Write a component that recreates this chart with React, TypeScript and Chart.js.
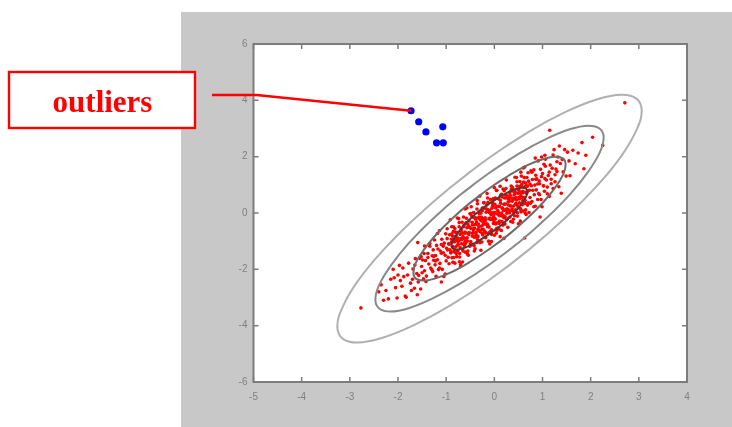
import React, { useEffect, useRef } from "react";
import { Chart, registerables } from "chart.js";

Chart.register(...registerables);

const xTicks = [-5, -4, -3, -2, -1, 0, 1, 2, 3, 4];
const yTicks = [-6, -4, -2, 0, 2, 4, 6];
const calloutLabel = "outliers";

const outlierPoints: [number, number][] = [
  [-1.73, 3.63], [-1.57, 3.24], [-1.42, 2.88], [-1.07, 3.06], [-1.2, 2.49], [-1.06, 2.49],
];

const samplePoints: [number, number][] = [
  [-0.49,-0.55],[-0.47,-1.10],[-0.46,-0.33],[-0.44,-0.69],[-0.43,0.02],[-0.42,-0.86],[-0.41,-0.53],[-0.40,-1.27],[-0.39,-0.17],[-0.38,-0.69],
  [-0.37,-0.31],[-0.36,-1.05],[-0.35,0.33],[-0.34,-0.83],[-0.33,-0.39],[-0.32,-0.49],[-0.31,0.02],[-0.30,-1.05],[-0.29,-0.25],[-0.28,-1.32],
  [-0.27,-0.14],[-0.26,-0.59],[-0.25,0.18],[-0.24,-0.78],[-0.23,-0.33],[-0.22,0.36],[-0.21,-0.39],[-0.20,-0.65],[-0.19,-0.17],[-0.18,-0.88],
  [-0.17,0.15],[-0.16,-0.39],[-0.15,0.69],[-0.14,-0.49],[-0.13,0.11],[-0.12,-1.00],[-0.11,-0.20],[-0.10,0.01],[-0.09,-0.67],[-0.08,0.48],
  [-0.07,-0.05],[-0.06,-0.60],[-0.05,0.17],[-0.04,-0.21],[-0.03,0.50],[-0.02,-0.37],[-0.01,-0.04],[0.00,-0.79],[0.01,0.31],[0.02,-0.21],
  [0.03,0.18],[0.04,-0.56],[0.05,0.81],[0.06,-0.35],[0.07,0.09],[0.08,0.00],[0.09,0.50],[0.10,-0.57],[0.11,0.23],[0.12,-0.84],
  [0.13,0.35],[0.14,-0.10],[0.15,0.66],[0.16,-0.30],[0.17,0.16],[0.18,0.85],[0.19,0.09],[0.20,-0.17],[0.21,0.31],[0.22,-0.39],
  [0.23,0.64],[0.24,0.09],[0.25,1.17],[0.26,-0.01],[0.27,0.60],[0.28,-0.51],[0.29,0.28],[0.30,0.49],
  [-0.495,-0.02],[-0.475,-1.13],[-0.455,-0.42],[-0.435,-0.60],[-0.415,-1.35],[-0.395,-0.21],[-0.375,-0.77],[-0.355,0.44],[-0.335,-0.61],[-0.315,-0.02],
  [-0.295,-1.02],[-0.275,-0.27],[-0.255,-0.72],[-0.235,-0.42],[-0.215,0.37],[-0.195,-0.29],[-0.175,-0.70],[-0.155,0.29],[-0.135,-0.43],[-0.115,0.05],
  [-0.095,-1.10],[-0.075,0.01],[-0.055,-0.76],[-0.035,0.35],[-0.015,-0.12],[0.005,0.02],[0.025,-0.39],[0.045,0.80],[0.065,-0.53],[0.085,0.24],
  [0.105,-0.10],[0.125,0.45],[0.145,-0.62],[0.165,0.17],[0.185,-0.13],[0.205,0.79],[0.225,0.11],[0.245,0.53],[0.265,-0.21],[0.285,0.39],
  [-0.89,-1.04],[-0.88,-1.59],[-0.87,-0.82],[-0.86,-1.20],[-0.85,-0.49],[-0.84,-1.37],[-0.83,-1.03],[-0.82,-1.78],[-0.81,-0.68],[-0.80,-1.20],
  [-0.79,-0.82],[-0.78,-1.55],[-0.77,-0.18],[-0.76,-1.34],[-0.75,-0.90],[-0.74,-1.00],[-0.73,-0.49],[-0.72,-1.56],[-0.71,-0.76],[-0.70,-1.83],
  [-0.69,-0.65],[-0.68,-1.09],[-0.67,-0.33],[-0.66,-1.29],[-0.65,-0.84],[-0.64,-0.14],[-0.63,-0.90],[-0.62,-1.16],[-0.61,-0.68],[-0.60,-1.39],
  [-0.59,-0.35],[-0.58,-0.90],[-0.57,0.18],[-0.56,-1.00],[-0.55,-0.40],[-0.54,-1.50],[-0.53,-0.71],[-0.52,-0.50],[-0.51,-1.18],[-0.505,-0.03],
  [-0.885,-0.49],[-0.845,-1.58],[-0.805,-0.84],[-0.765,-1.00],[-0.725,-1.73],[-0.685,-0.56],[-0.645,-1.10],[-0.605,0.14],[-0.565,-0.88],[-0.525,-0.28],
  [0.31,0.42],[0.32,-0.14],[0.33,0.63],[0.34,0.25],[0.35,0.96],[0.36,0.09],[0.37,0.42],[0.38,-0.33],[0.39,0.77],[0.40,0.25],
  [0.41,0.64],[0.42,-0.10],[0.43,1.27],[0.44,0.11],[0.45,0.55],[0.46,0.46],[0.47,0.96],[0.48,-0.11],[0.49,0.69],[0.50,-0.38],
  [0.51,0.81],[0.52,0.36],[0.53,1.12],[0.54,0.16],[0.55,0.62],[0.56,1.31],[0.57,0.55],[0.58,0.29],[0.59,0.77],[0.60,0.07],
  [0.61,1.10],[0.62,0.55],[0.63,1.63],[0.64,0.45],[0.65,1.06],[0.66,-0.05],[0.67,0.74],[0.68,0.95],[0.69,0.28],[0.70,1.43],
  [0.315,0.00],[0.355,0.85],[0.395,-0.22],[0.435,0.70],[0.475,0.30],[0.515,0.94],[0.555,0.04],[0.595,0.72],[0.635,0.34],[0.675,1.26],
  [-1.29,-1.52],[-1.28,-2.08],[-1.27,-1.31],[-1.26,-1.68],[-1.24,-0.96],[-1.23,-1.84],[-1.22,-1.51],[-1.21,-2.25],[-1.20,-1.15],[-1.18,-1.66],
  [-1.17,-1.28],[-1.16,-2.01],[-1.14,-0.63],[-1.13,-1.79],[-1.12,-1.35],[-1.10,-1.43],[-1.09,-0.93],[-1.08,-2.00],[-1.06,-1.18],[-1.05,-2.25],
  [-1.04,-1.07],[-1.02,-1.50],[-1.01,-0.74],[-1.00,-1.70],[-0.99,-1.25],[-0.98,-0.56],[-0.97,-1.31],[-0.96,-1.57],[-0.95,-1.09],[-0.94,-1.80],
  [-0.93,-0.77],[-0.92,-1.31],[-0.915,-0.24],[-0.905,-1.42],
  [0.71,1.13],[0.72,0.02],[0.73,0.81],[0.74,1.03],[0.75,0.35],[0.76,1.50],[0.77,0.97],[0.78,0.41],[0.79,1.19],[0.80,0.81],
  [0.82,1.53],[0.83,0.65],[0.84,0.99],[0.85,0.24],[0.86,1.34],[0.87,0.82],[0.88,1.21],[0.90,0.48],[0.91,1.85],[0.92,0.69],
  [0.93,1.14],[0.94,1.04],[0.96,1.55],[0.97,0.48],[0.98,1.29],[0.99,0.22],[1.00,1.40],[1.02,0.96],[1.03,1.73],[1.04,0.77],
  [1.05,1.22],[1.06,1.91],[1.08,1.17],[1.10,0.92],
  [-1.69,-1.99],[-1.66,-2.67],[-1.64,-1.62],[-1.61,-2.15],[-1.59,-1.05],[-1.57,-2.22],[-1.55,-1.61],[-1.53,-2.70],[-1.51,-1.90],[-1.49,-1.67],
  [-1.47,-2.34],[-1.45,-1.17],[-1.43,-1.69],[-1.41,-2.24],[-1.38,-1.44],[-1.36,-1.81],[-1.34,-1.08],[-1.32,-1.95],
  [1.12,1.33],[1.14,0.59],[1.16,1.70],[1.18,1.20],[1.20,1.59],[1.22,0.87],[1.24,2.25],[1.26,1.11],[1.28,1.56],[1.30,1.47],
  [1.32,1.99],[1.34,0.93],[1.37,1.76],[1.39,0.70],[1.41,1.90],[1.43,1.46],[1.46,2.25],[1.49,1.31],
  [-2.08,-2.30],[-2.02,-3.02],[-1.97,-1.86],[-1.92,-2.60],[-1.88,-2.26],[-1.83,-2.99],[-1.78,-1.78],[-1.74,-2.49],
  [1.52,2.16],[1.57,1.32],[1.63,2.23],[1.68,1.75],[1.74,2.13],[1.82,2.50],[1.86,1.57],[2.04,2.69],
  [-2.77,-3.37],[-2.35,-2.55],[-2.20,-3.05],[2.71,3.91],[2.25,2.40],[1.15,2.94],[0.63,-0.89],[0.95,-0.14],[1.05,2.05],[1.35,2.38],
  [1.55,1.85],[0.85,1.95],[1.90,2.05],[0.60,1.60],[-1.85,-2.95],[-2.40,-2.80],[-1.60,-2.90],[-2.00,-2.20],[-1.10,-2.45],[-0.70,-1.90],
  [0.20,-0.90],[-0.30,0.60],[0.00,0.90],[0.55,1.45],
  [-0.90,-1.39],[-0.88,-0.74],[-0.86,-1.75],[-0.84,-0.93],[-0.82,-0.55],[-0.80,-1.41],[-0.78,-0.95],[-0.76,-1.14],[-0.74,-0.20],[-0.72,-1.44],
  [-0.70,-0.64],[-0.68,-0.95],[-0.66,-1.74],[-0.64,-0.49],[-0.62,-0.72],[-0.60,-1.08],[-0.58,-0.19],[-0.56,-1.45],[-0.54,-0.49],[-0.52,-0.69],
  [-0.50,-1.10],[-0.48,0.22],[-0.46,-0.82],[-0.44,-0.15],[-0.42,-1.16],[-0.40,-0.41],[-0.38,-0.85],[-0.36,0.14],[-0.34,-0.58],[-0.32,-0.14],
  [-0.30,-0.66],[-0.28,-0.01],[-0.26,-1.03],[-0.24,-0.20],[-0.22,0.17],[-0.20,-0.68],[-0.18,-0.23],[-0.16,-0.41],[-0.14,0.53],[-0.12,-0.72],
  [-0.10,0.09],[-0.08,-0.23],[-0.06,-1.01],[-0.04,0.23],[-0.02,0.01],[0.00,-0.35],[0.02,0.53],[0.04,-0.72],[0.06,0.23],[0.08,0.04],
  [0.10,-0.37],[0.12,0.95],[0.14,-0.09],[0.16,0.57],[0.18,-0.43],[0.20,0.31],[0.22,-0.12],[0.24,0.87],[0.26,0.15],[0.28,0.59],
  [0.30,0.06],[0.32,0.72],[0.34,-0.30],[0.36,0.53],[0.38,0.90],[0.40,0.04],[0.42,0.50],[0.44,0.31],[0.46,1.26],[0.48,0.01],
  [0.50,0.82],[0.52,0.50],[0.54,-0.29],[0.56,0.96],[0.58,0.73],[0.60,0.38],[0.62,1.26],[0.64,0.00],[0.66,0.96],[0.68,0.76],[0.70,0.36],
  [-0.89,-0.93],[-0.87,-1.19],[-0.85,-0.65],[-0.83,-1.30],[-0.81,-0.95],[-0.79,-1.44],[-0.77,-0.69],[-0.75,-1.12],[-0.73,-0.34],[-0.71,-1.23],
  [-0.69,-0.91],[-0.67,-0.72],[-0.65,-1.35],[-0.63,-0.43],[-0.61,-1.01],[-0.59,-0.71],[-0.57,-0.52],[-0.55,-1.35],[-0.53,-0.76],[-0.51,-0.50],
  [-0.49,-1.01],[-0.47,-0.10],[-0.45,-0.72],[-0.43,-0.55],[-0.41,-0.83],[-0.39,-0.19],[-0.37,-0.41],[-0.35,-0.94],[-0.33,-0.19],[-0.31,-0.61],
  [-0.29,-0.20],[-0.27,-0.47],[-0.25,0.08],[-0.23,-0.58],[-0.21,-0.22],[-0.19,-0.71],[-0.17,0.03],[-0.15,-0.39],[-0.13,0.38],[-0.11,-0.50],
  [-0.09,-0.18],[-0.07,0.01],[-0.05,-0.62],[-0.03,0.29],[-0.01,-0.28],[0.01,0.01],[0.03,0.21],[0.05,-0.62],[0.07,-0.04],[0.09,0.23],
  [0.11,-0.29],[0.13,0.63],[0.15,0.00],[0.17,0.18],[0.19,-0.10],[0.21,0.53],[0.23,0.32],[0.25,-0.22],[0.27,0.54],[0.29,0.12],
  [0.31,0.53],[0.33,0.26],[0.35,0.80],[0.37,0.15],[0.39,0.50],[0.41,0.02],[0.43,0.76],[0.45,0.34],[0.47,1.11],[0.49,0.22],
  [0.51,0.55],[0.53,0.73],[0.55,0.11],[0.57,1.02],[0.59,0.44],[0.61,0.74],[0.63,0.93],[0.65,0.11],[0.67,0.69],[0.69,0.96],
  [-1.50,-2.12],[-1.46,-1.44],[-1.42,-2.43],[-1.38,-1.58],[-1.34,-1.18],[-1.30,-2.01],[-1.26,-1.54],[-1.22,-1.70],[-1.18,-0.73],[-1.14,-1.95],
  [-1.10,-1.12],[-1.06,-1.41],[-1.02,-2.17],[-0.98,-0.91],[-0.94,-1.11],
  [0.74,0.55],[0.78,1.45],[0.82,0.22],[0.86,1.20],[0.90,1.03],[0.94,0.65],[0.98,1.99],[1.02,0.97],[1.06,1.66],[1.10,0.68],
  [1.14,1.45],[1.18,1.04],[1.22,2.06],[1.26,1.36],[1.30,1.82],
  [-2.25,-2.75],[-2.15,-2.35],[-2.05,-2.65],[-1.95,-2.40],[-1.80,-2.20],[-1.72,-2.75],[-1.65,-1.85],[-1.58,-2.45],[-1.52,-1.55],[-1.45,-2.05],
  [-2.30,-3.10],[-2.10,-2.00],[-1.90,-1.95],[-1.70,-2.35],
];

// Density contour outlines, innermost to outermost
const contourInner: [number, number][] = [
  [0.11,0.57],[-0.10,0.34],[-0.31,0.08],[-0.50,-0.21],[-0.66,-0.49],[-0.78,-0.76],[-0.86,-0.98],[-0.89,-1.16],[-0.86,-1.26],
  [-0.78,-1.30],[-0.66,-1.26],[-0.50,-1.15],[-0.31,-0.97],[-0.10,-0.74],[0.11,-0.48],[0.30,-0.19],[0.46,0.09],[0.58,0.36],
  [0.66,0.58],[0.69,0.76],[0.66,0.86],[0.58,0.90],[0.46,0.86],[0.30,0.75],[0.11,0.57],[-0.10,0.34],[-0.31,0.08],
];
const contourSecond: [number, number][] = [
  [0.31,1.34],[-0.10,0.88],[-0.51,0.35],[-0.89,-0.22],[-1.22,-0.79],[-1.47,-1.32],[-1.63,-1.77],[-1.68,-2.11],[-1.63,-2.33],
  [-1.47,-2.40],[-1.22,-2.32],[-0.89,-2.10],[-0.51,-1.74],[-0.10,-1.28],[0.31,-0.75],[0.69,-0.18],[1.02,0.39],[1.27,0.92],
  [1.43,1.37],[1.48,1.71],[1.43,1.93],[1.27,2.00],[1.02,1.92],[0.69,1.70],[0.31,1.34],[-0.10,0.88],[-0.51,0.35],
];
const contourThird: [number, number][] = [
  [0.52,2.12],[-0.10,1.43],[-0.72,0.63],[-1.29,-0.23],[-1.78,-1.08],[-2.15,-1.87],[-2.39,-2.55],[-2.47,-3.07],[-2.39,-3.39],
  [-2.15,-3.50],[-1.78,-3.38],[-1.29,-3.04],[-0.72,-2.52],[-0.10,-1.83],[0.52,-1.03],[1.09,-0.17],[1.58,0.68],[1.95,1.47],
  [2.19,2.15],[2.27,2.67],[2.19,2.99],[1.95,3.10],[1.58,2.98],[1.09,2.64],[0.52,2.12],[-0.10,1.43],[-0.72,0.63],
];
const contourOuter: [number, number][] = [
  [0.72,2.89],[-0.10,1.97],[-0.92,0.90],[-1.68,-0.24],[-2.34,-1.38],[-2.84,-2.43],[-3.15,-3.34],[-3.26,-4.03],[-3.15,-4.46],
  [-2.84,-4.60],[-2.34,-4.44],[-1.68,-3.99],[-0.92,-3.29],[-0.10,-2.37],[0.72,-1.30],[1.48,-0.16],[2.14,0.98],[2.64,2.03],
  [2.95,2.94],[3.06,3.63],[2.95,4.06],[2.64,4.20],[2.14,4.04],[1.48,3.59],[0.72,2.89],[-0.10,1.97],[-0.92,0.90],
];

const contours = [contourInner, contourSecond, contourThird, contourOuter];
const contourColors = ["#5a3434", "#6c6c6c", "#8a8a8a", "#b0b0b0"];

const toXY = (arr: [number, number][]) => arr.map(([x, y]) => ({ x, y }));

const AXIS_COLOR = "#7c7c7c";

const decorPlugin = {
  id: "decor",
  beforeDraw(chart: any) {
    const { ctx, chartArea: a, width, height } = chart;
    ctx.save();
    ctx.fillStyle = "#ffffff";
    ctx.fillRect(0, 0, width, height);
    ctx.fillStyle = "#c8c8c8";
    ctx.fillRect(a.left - 72.5, a.top - 32, width, height);
    ctx.fillStyle = "#ffffff";
    ctx.fillRect(a.left, a.top, a.right - a.left, a.bottom - a.top);
    ctx.restore();
  },
  afterDraw(chart: any) {
    const { ctx, chartArea: a, scales } = chart;
    const xs = scales.x;
    const ys = scales.y;
    ctx.save();
    ctx.strokeStyle = AXIS_COLOR;
    ctx.lineWidth = 2;
    ctx.strokeRect(a.left, a.top, a.right - a.left, a.bottom - a.top);
    ctx.lineWidth = 1.5;
    ctx.beginPath();
    xTicks.forEach((v) => {
      const px = xs.getPixelForValue(v);
      ctx.moveTo(px, a.bottom);
      ctx.lineTo(px, a.bottom - 5);
      ctx.moveTo(px, a.top);
      ctx.lineTo(px, a.top + 5);
    });
    yTicks.forEach((v) => {
      const py = ys.getPixelForValue(v);
      ctx.moveTo(a.left, py);
      ctx.lineTo(a.left + 5, py);
      ctx.moveTo(a.right, py);
      ctx.lineTo(a.right - 5, py);
    });
    ctx.stroke();

    const tx = xs.getPixelForValue(outlierPoints[0][0]);
    const ty = ys.getPixelForValue(outlierPoints[0][1]);
    ctx.strokeStyle = "#ff0000";
    ctx.lineWidth = 2.4;
    ctx.beginPath();
    ctx.moveTo(212, 95);
    ctx.lineTo(a.left + 3, 95);
    ctx.lineTo(tx, ty);
    ctx.stroke();

    ctx.fillStyle = "#ffffff";
    ctx.fillRect(9, 72, 186, 56);
    ctx.strokeStyle = "#ff0000";
    ctx.lineWidth = 2.4;
    ctx.strokeRect(9, 72, 186, 56);
    ctx.fillStyle = "#ff0000";
    ctx.font = "bold 31px 'Liberation Serif', 'Times New Roman', serif";
    ctx.textAlign = "center";
    ctx.textBaseline = "alphabetic";
    ctx.fillText(calloutLabel, 102.5, 112);
    ctx.restore();
  },
};

export default function App() {
  const ref = useRef<HTMLCanvasElement | null>(null);

  useEffect(() => {
    if (!ref.current) return;
    const tickFont = { family: "'Liberation Sans', Arial, sans-serif", size: 10 };
    const datasets: any[] = [
      {
        label: "outliers",
        data: toXY(outlierPoints),
        backgroundColor: "#0000ff",
        borderWidth: 0,
        pointRadius: 3.6,
        order: 0,
      },
      ...contours.map((c, i) => ({
        label: "contour" + i,
        data: toXY(c),
        showLine: true,
        borderColor: contourColors[i],
        borderWidth: 2,
        pointRadius: 0,
        tension: 0.4,
        fill: false,
        order: 1 + i,
      })),
      {
        label: "samples",
        data: toXY(samplePoints),
        backgroundColor: "#ff0000",
        borderWidth: 0,
        pointRadius: 1.8,
        order: 10,
      },
    ];

    const chart = new Chart(ref.current, {
      type: "scatter",
      data: { datasets },
      plugins: [decorPlugin],
      options: {
        animation: false,
        responsive: true,
        maintainAspectRatio: false,
        events: [],
        layout: { padding: { left: 0, right: 45, top: 44, bottom: 0 } },
        plugins: { legend: { display: false }, tooltip: { enabled: false } },
        scales: {
          x: {
            type: "linear",
            min: -5,
            max: 4,
            afterBuildTicks: (s: any) => {
              s.ticks = xTicks.map((v) => ({ value: v }));
            },
            afterFit: (s: any) => {
              s.height = 45;
            },
            grid: { display: false, drawTicks: false },
            border: { display: false },
            ticks: { color: "#808080", font: tickFont, padding: 9, maxRotation: 0, autoSkip: false },
          },
          y: {
            type: "linear",
            min: -6,
            max: 6,
            afterBuildTicks: (s: any) => {
              s.ticks = yTicks.map((v) => ({ value: v }));
            },
            afterFit: (s: any) => {
              s.width = 253.5;
            },
            grid: { display: false, drawTicks: false },
            border: { display: false },
            ticks: { color: "#808080", font: tickFont, padding: 6, autoSkip: false },
          },
        },
      } as any,
    });
    return () => chart.destroy();
  }, []);

  return (
    <div style={{ position: "absolute", left: 0, top: 0, width: 732, height: 427 }}>
      <canvas ref={ref} />
    </div>
  );
}
